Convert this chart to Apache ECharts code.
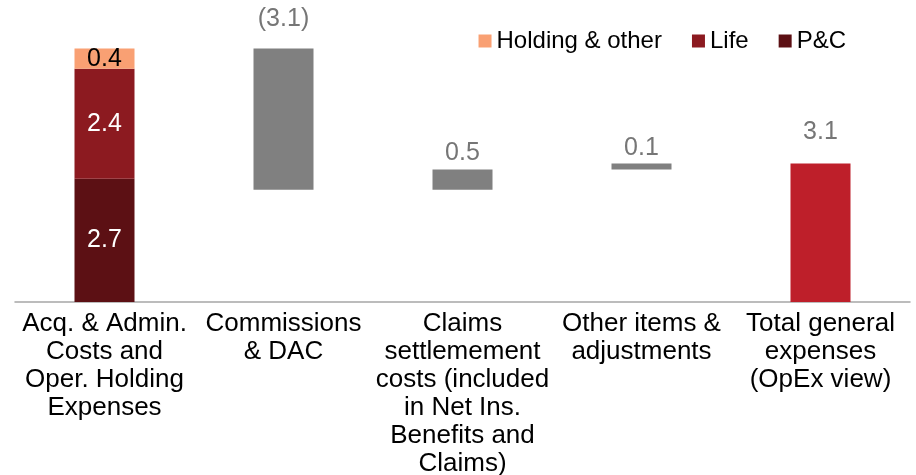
<!DOCTYPE html>
<html lang="en">
<head>
    <meta charset="UTF-8">
    <title>OpEx bridge</title>
    <style>html,body{margin:0;padding:0;background:#fff;}</style>
</head>
<body>
<div id="main" style="width: 916px;height:475px;"></div>
<script src="https://cdn.jsdelivr.net/npm/echarts@6/dist/echarts.min.js"></script>
<script type="text/javascript">
    // categories (line breaks as in the picture)
    var categories = [
        "Acq. & Admin.\nCosts and\nOper. Holding\nExpenses",
        "Commissions\n& DAC",
        "Claims\nsettlemement\ncosts (included\nin Net Ins.\nBenefits and\nClaims)",
        "Other items &\nadjustments",
        "Total general\nexpenses\n(OpEx view)"
    ];
    // first column, split by segment
    var pcValues      = [2.69, "-", "-", "-", "-"];
    var lifeValues    = [2.40, "-", "-", "-", "-"];
    var holdingValues = [0.44, "-", "-", "-", "-"];
    // bridge steps (signed) and final total
    var stepValues  = ["-", -3.08, 0.44, 0.13, "-"];
    var totalValues = ["-", "-", "-", "-", 3.02];
    // printed labels
    var segLabels   = {pc: "2.7", life: "2.4", holding: "0.4"};
    var stepLabels  = ["", "(3.1)", "0.5", "0.1", ""];
    var totalLabels = ["", "", "", "", "3.1"];

    // invisible base + absolute heights for the waterfall
    var start = pcValues[0] + lifeValues[0] + holdingValues[0];
    var running = start;
    var base = [0], stepBars = ["-"];
    for (var i = 1; i < categories.length; i++) {
        if (stepValues[i] === "-") { base.push(0); stepBars.push("-"); continue; }
        var v = stepValues[i];
        var next = running + v;
        base.push(Math.min(running, next));
        stepBars.push(Math.abs(v));
        running = next;
    }

    var font = "Liberation Sans, Arial, sans-serif";
    var labelGap = [0, 17, 4, 3, 19];

    var myChart = echarts.init(document.getElementById("main"));

    var option = {
        animation: false,
        textStyle: {fontFamily: font},
        grid: {left: 15, right: 6, top: 27, bottom: 173, containLabel: false, outerBoundsMode: "none"},
        legend: {
            data: ["Holding & other", "Life", "P&C"],
            right: 65,
            top: 24,
            itemWidth: 13,
            itemHeight: 13,
            itemGap: 30,
            icon: "rect",
            textStyle: {fontSize: 24, color: "#000", fontFamily: font}
        },
        xAxis: {
            type: "category",
            data: categories,
            axisLine: {lineStyle: {color: "#a6a6a6", width: 1.5}},
            axisTick: {show: false},
            axisLabel: {
                interval: 0,
                color: "#000",
                fontSize: 26,
                lineHeight: 28,
                margin: 8,
                fontFamily: font
            }
        },
        yAxis: {type: "value", min: 0, max: 6, show: false, splitLine: {show: false}},
        series: [
            {
                name: "base", type: "bar", stack: "all", barWidth: 60,
                data: base, silent: true,
                itemStyle: {color: "transparent"}
            },
            {
                name: "P&C", type: "bar", stack: "all", barWidth: 60,
                data: pcValues, itemStyle: {color: "#5c1014"},
                label: {show: true, position: "inside", color: "#fff", fontSize: 25,
                    formatter: function () { return segLabels.pc; }}
            },
            {
                name: "Life", type: "bar", stack: "all", barWidth: 60,
                data: lifeValues, itemStyle: {color: "#8c1a20"},
                label: {show: true, position: "inside", color: "#fff", fontSize: 25,
                    formatter: function () { return segLabels.life; }}
            },
            {
                name: "Holding & other", type: "bar", stack: "all", barWidth: 60,
                data: holdingValues, itemStyle: {color: "#f9a073"},
                label: {show: true, position: "inside", color: "#000", fontSize: 25,
                    formatter: function () { return segLabels.holding; }}
            },
            {
                name: "step", type: "bar", stack: "all", barWidth: 60,
                data: stepBars.map(function (v, idx) {
                    return {value: v, label: {distance: labelGap[idx]}};
                }),
                itemStyle: {color: "#808080"},
                label: {show: true, position: "top", color: "#767676", fontSize: 25,
                    formatter: function (p) { return stepLabels[p.dataIndex]; }}
            },
            {
                name: "total", type: "bar", stack: "all", barWidth: 60,
                data: totalValues, itemStyle: {color: "#be1f2a"},
                label: {show: true, position: "top", color: "#767676", fontSize: 25,
                    distance: labelGap[4],
                    formatter: function (p) { return totalLabels[p.dataIndex]; }}
            }
        ]
    };

    myChart.setOption(option);
</script>
</body>
</html>
